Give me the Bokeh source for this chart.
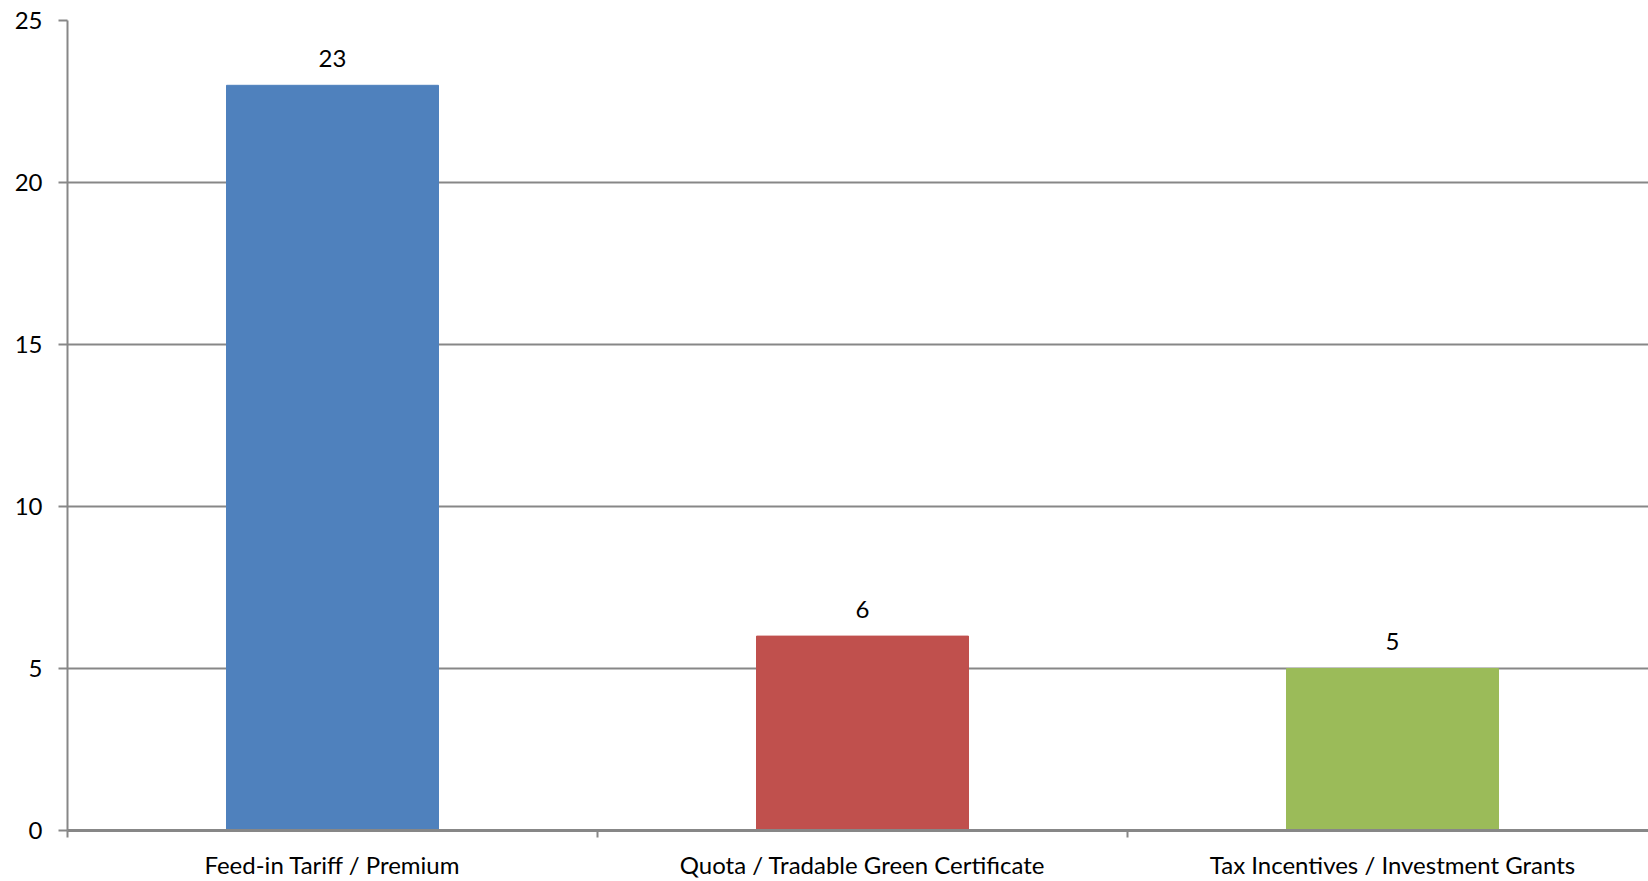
from bokeh.plotting import figure
from bokeh.models import Range1d, FixedTicker, ColumnDataSource
from bokeh.core.properties import value
from bokeh.embed import file_html
from bokeh.resources import INLINE

# Support scheme categories and number of cases
categories = ["Feed-in Tariff / Premium", "Quota / Tradable Green Certificate",
              "Tax Incentives / Investment Grants"]
counts = [23, 6, 5]
colors = ["#4F81BD", "#C0504D", "#9BBB59"]
y_ticks = [0, 5, 10, 15, 20, 25]

FONT = "Lato"
FONT_SIZE = "24px"
GRID = "#878787"

positions = [i + 0.5 for i in range(len(categories))]
src = ColumnDataSource(dict(x=positions, top=counts, color=colors,
                            label=[str(c) for c in counts]))

p = figure(width=1648, height=881, output_backend="svg", toolbar_location=None,
           x_range=Range1d(0, 2.983), y_range=Range1d(0, 25),
           min_border_left=67, min_border_right=0, min_border_top=20,
           min_border_bottom=49)
p.outline_line_color = None
p.background_fill_color = "white"
p.border_fill_color = "white"

p.vbar(x="x", top="top", bottom=0, width=0.4, color="color", source=src)
p.text(x="x", y="top", text="label", source=src, text_align="center",
       text_baseline="alphabetic", y_offset=-27, text_font=value(FONT),
       text_font_size=FONT_SIZE, text_color="#000000")

# x axis: labels centred on categories, tick marks at category boundaries
xa = p.xaxis[0]
xa.ticker = FixedTicker(ticks=positions, minor_ticks=[0, 1, 2, 3])
xa.major_label_overrides = {pos: c for pos, c in zip(positions, categories)}
xa.major_tick_line_color = None
xa.minor_tick_line_color = GRID
xa.minor_tick_line_width = 2
xa.minor_tick_in = 0
xa.minor_tick_out = 7
xa.axis_line_color = GRID
xa.axis_line_width = 3
xa.major_label_text_font = FONT
xa.major_label_text_font_size = FONT_SIZE
xa.major_label_text_color = "#000000"
xa.major_label_standoff = 12

ya = p.yaxis[0]
ya.ticker = FixedTicker(ticks=y_ticks)
ya.minor_tick_line_color = None
ya.major_tick_line_color = GRID
ya.major_tick_line_width = 2
ya.major_tick_in = 0
ya.major_tick_out = 9
ya.axis_line_color = GRID
ya.axis_line_width = 2
ya.major_label_text_font = FONT
ya.major_label_text_font_size = FONT_SIZE
ya.major_label_text_color = "#000000"
ya.major_label_standoff = 16

p.xgrid.grid_line_color = None
p.ygrid.ticker = FixedTicker(ticks=y_ticks[1:])
p.ygrid.grid_line_color = GRID
p.ygrid.grid_line_width = 2

open("out.html", "w").write(file_html(p, INLINE))
